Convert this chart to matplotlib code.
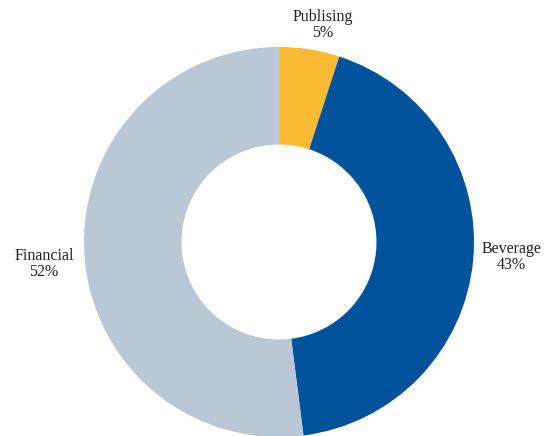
import matplotlib.pyplot as plt

labels = ['Publising', 'Beverage', 'Financial']
values = [5, 43, 52]
colors = ['#FBBA33', '#00529B', '#BAC8D6']
# label centres in data units (ring radius = 1)
label_x = [0.226, 1.19, -1.205]
label_y = [1.113, -0.077, -0.113]

fig = plt.figure(figsize=(5.53, 4.36), dpi=100)
# axes sized so the ring sits where it does in the reference
ax = fig.add_axes([84 / 553, -1 / 436, 390 / 553, 390 / 436])

wedges, _ = ax.pie(values, colors=colors, startangle=90, counterclock=False,
                   radius=1.0, wedgeprops=dict(width=0.5, linewidth=0))

for l, v, x, y in zip(labels, values, label_x, label_y):
    ax.text(x, y, f'{l}\n{v}%', ha='center', va='center', linespacing=1.0,
            family='Liberation Serif', fontsize=11.5, color='#222222')

ax.set_xlim(-1, 1)
ax.set_ylim(-1, 1)
ax.set_aspect('equal')
ax.axis('off')

fig.savefig('out.png', dpi=100)
